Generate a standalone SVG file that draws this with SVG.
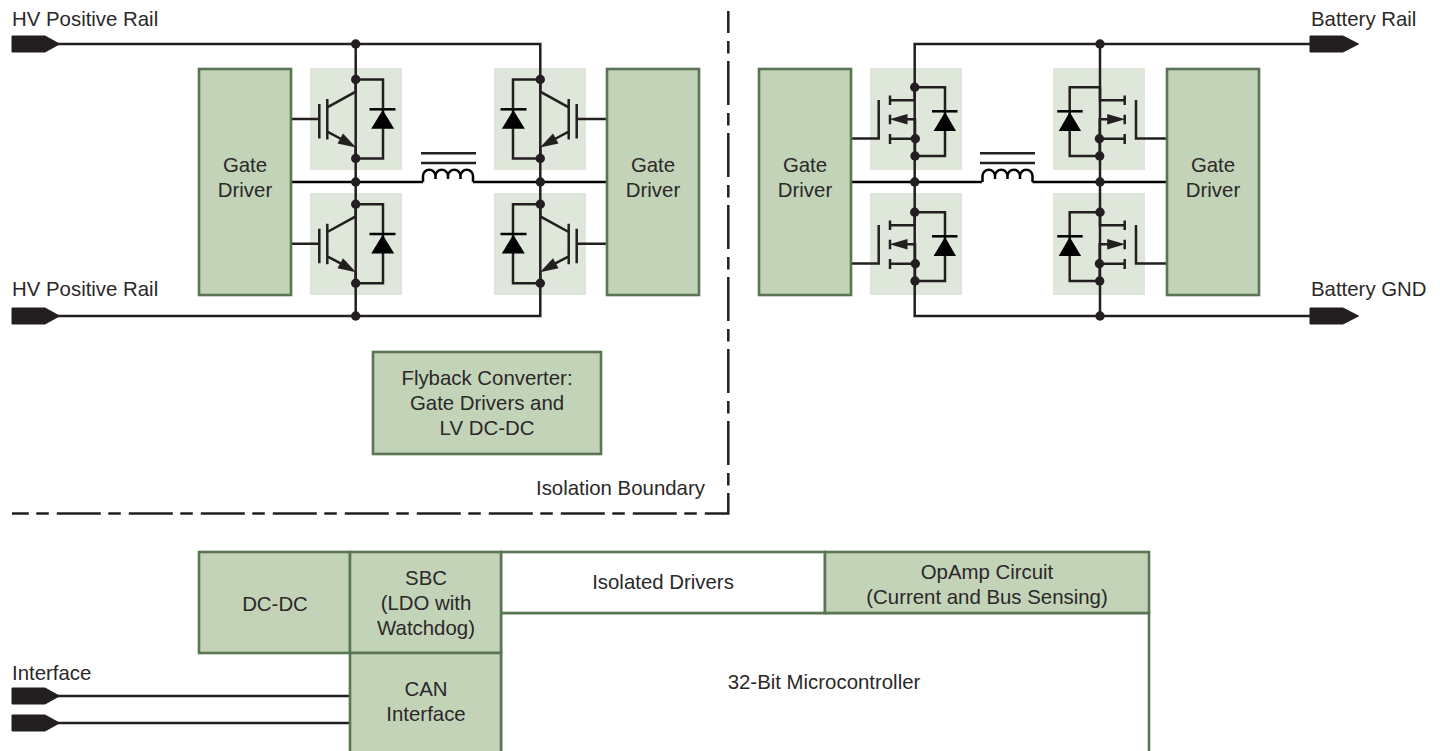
<svg xmlns="http://www.w3.org/2000/svg" width="1440" height="751" viewBox="0 0 1440 751">
<style>
text{font-family:"Liberation Sans",Arial,sans-serif;font-size:20.4px;fill:#2b2829}
.c{text-anchor:middle}
.box{fill:#c3d3b8;stroke:#5a7553;stroke-width:2.6;stroke-linejoin:miter}
.wbox{fill:#fff;stroke:#5a7553;stroke-width:2.6}
.bg{fill:#dfe6da}
.w{fill:none;stroke:#231f20;stroke-width:2.5;stroke-linejoin:miter}
.k{fill:none;stroke:#000;stroke-width:2.5}
.d{fill:#231f20}
.t{fill:#231f20;stroke:#231f20;stroke-width:1;stroke-linejoin:round}
.f{fill:#000}
.b{fill:none;stroke:#231f20;stroke-width:2.5;stroke-dasharray:44 8 12.5 7.5;stroke-dashoffset:22}
</style>
<defs>
<polygon id="term" class="t" points="12,-8 45,-8 59.5,0 45,8 12,8"/>
<circle id="dot" class="d" r="4.7"/>
<g id="igbt">
<path class="w" d="M288,119H319.3M319.3,104V138.5M327.3,99V139.5M355.7,79.5V91.7L327.3,107.3M327.3,131.7L343,140M355.7,146.7V158.5M355.7,79.5H383V158.5H355.7"/>
<polygon class="d" points="356,147.5 337.5,143.5 343,133.5"/>
<path class="k" d="M369.5,109.3H395.5"/>
<polygon class="f" points="382.7,110 394.2,128.8 371.2,128.8"/>
<use href="#dot" x="355.7" y="79.5"/>
<use href="#dot" x="355.7" y="158.5"/>
</g>
<g id="mos">
<path class="w" d="M847,138.5H878.7V100M914.7,87.3V100.3H890M890,95.5V105M890,114.7V124.3M890,134V144M890,138.7H915M905,119.3H915V156M914.7,87.3H945V156H915"/>
<polygon class="d" points="889.5,119.3 907.5,114 907.5,124.6"/>
<path class="k" d="M932,111.3H957.5"/>
<polygon class="f" points="945,112 956,131 933.6,131"/>
<use href="#dot" x="915.3" y="138.7"/>
<use href="#dot" x="915" y="156"/>
</g>
<g id="mosb">
<use href="#mos"/>
<use href="#dot" x="914.7" y="87.3"/>
</g>
<path id="coil" class="k" d="M0,182V176A6.2,6.2 0 0 1 12.5,176V179M12.5,176A6.2,6.2 0 0 1 25,176V179M25,176A6.2,6.2 0 0 1 37.5,176V179M37.5,176A6.2,6.2 0 0 1 50,176V182"/>
</defs>
<g id="bg-panels">
<rect class="bg" x="310" y="68" width="92" height="102"/>
<rect class="bg" x="310" y="193" width="92" height="102"/>
<rect class="bg" x="494" y="68" width="92" height="102"/>
<rect class="bg" x="494" y="193" width="92" height="102"/>
<rect class="bg" x="870" y="68" width="92" height="102"/>
<rect class="bg" x="870" y="193" width="92" height="102"/>
<rect class="bg" x="1053" y="68" width="92" height="102"/>
<rect class="bg" x="1053" y="193" width="92" height="102"/>
</g>
<g id="connectors">
<path class="w" d="M50,44H540.3V80M50,316H540.3V284M355.7,44V316M540.3,80V284"/>
<path class="w" d="M1320,44H914.7V88M1320,316H914.7V282M1100,44V316M914.7,88V282"/>
<path class="k" d="M291,182H423M473,182H607M851,182H982M1032.5,182H1167"/>
<path class="w" d="M50,696H350M50,723H350"/>
<use href="#igbt"/>
<use href="#igbt" transform="translate(0,124.7)"/>
<use href="#igbt" transform="matrix(-1 0 0 1 896 0)"/>
<use href="#igbt" transform="matrix(-1 0 0 1 896 124.7)"/>
<use href="#mosb"/>
<use href="#mosb" transform="translate(0,125)"/>
<use href="#mos" transform="matrix(-1 0 0 1 2014.7 0)"/>
<use href="#mosb" transform="matrix(-1 0 0 1 2014.7 125)"/>
<use href="#coil" x="423"/>
<use href="#coil" x="982.5"/>
<path class="w" d="M421,153.3H476M421,163H476M980,153.3H1035M980,163H1035"/>
<use href="#dot" x="355.7" y="44"/>
<use href="#dot" x="355.7" y="316"/>
<use href="#dot" x="355.7" y="182"/>
<use href="#dot" x="540.3" y="182"/>
<use href="#dot" x="1100" y="44"/>
<use href="#dot" x="1100" y="316"/>
<use href="#dot" x="914.7" y="182"/>
<use href="#dot" x="1100" y="182"/>
<use href="#term" y="44"/>
<use href="#term" y="316"/>
<use href="#term" y="696"/>
<use href="#term" y="723"/>
<polygon class="t" points="1310,36 1343,36 1358.5,44 1343,52 1310,52"/>
<polygon class="t" points="1310,308 1343,308 1358.5,316 1343,324 1310,324"/>
</g>
<g id="isolation-boundary">
<path class="b" d="M728.3,11V513.5H12"/>
<text x="536" y="495">Isolation Boundary</text>
</g>
<g id="gd1"><rect class="box" x="199" y="69" width="92" height="226"/><text class="c" x="245" y="172">Gate</text><text class="c" x="245" y="197">Driver</text></g>
<g id="gd2"><rect class="box" x="607" y="69" width="92" height="226"/><text class="c" x="653" y="172">Gate</text><text class="c" x="653" y="197">Driver</text></g>
<g id="gd3"><rect class="box" x="759" y="69" width="92" height="226"/><text class="c" x="805" y="172">Gate</text><text class="c" x="805" y="197">Driver</text></g>
<g id="gd4"><rect class="box" x="1167" y="69" width="92" height="226"/><text class="c" x="1213" y="172">Gate</text><text class="c" x="1213" y="197">Driver</text></g>
<g id="flyback"><rect class="box" x="373" y="352" width="228" height="102"/><text class="c" x="487" y="384.500">Flyback Converter:</text><text class="c" x="487" y="410">Gate Drivers and</text><text class="c" x="487" y="435">LV DC-DC</text></g>
<g id="mcu"><rect class="wbox" x="501" y="613" width="648" height="150"/><text class="c" x="824" y="689">32-Bit Microcontroller</text></g>
<g id="isolated"><rect class="wbox" x="501" y="552" width="324" height="61"/><text class="c" x="663" y="589">Isolated Drivers</text></g>
<g id="opamp"><rect class="box" x="825" y="552" width="324" height="61"/><text class="c" x="987" y="579">OpAmp Circuit</text><text class="c" x="987" y="604">(Current and Bus Sensing)</text></g>
<g id="dcdc"><rect class="box" x="199" y="552" width="151" height="101"/><text class="c" x="275" y="611">DC-DC</text></g>
<g id="sbc"><rect class="box" x="350" y="552" width="151" height="101"/><text class="c" x="426" y="585">SBC</text><text class="c" x="426" y="610">(LDO with</text><text class="c" x="426" y="635">Watchdog)</text></g>
<g id="can"><rect class="box" x="350" y="653" width="151" height="110"/><text class="c" x="426" y="696">CAN</text><text class="c" x="426" y="721">Interface</text></g>
<g id="labels">
<text x="12" y="26">HV Positive Rail</text>
<text x="12" y="296">HV Positive Rail</text>
<text x="1311" y="26">Battery Rail</text>
<text x="1311" y="296">Battery GND</text>
<text x="12" y="679.500">Interface</text>
</g>
</svg>
